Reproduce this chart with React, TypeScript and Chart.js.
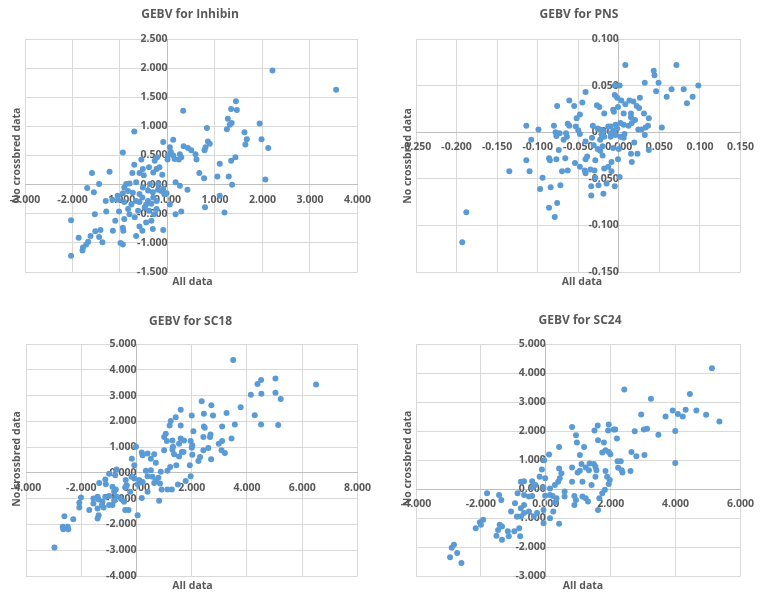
import React, { useEffect, useRef } from "react";
import { Chart, registerables } from "chart.js";

Chart.register(...registerables);

// ---------- DATA ----------
const titles = ["GEBV for Inhibin", "GEBV for PNS", "GEBV for SC18", "GEBV for SC24"];
const xAxisTitle = "All data";
const yAxisTitle = "No crossbred data";

const inhibinPoints: number[][] = [
  [2.21,1.96],[3.55,1.63],[1.44,1.43],[1.34,1.30],[1.46,1.28],[0.33,1.27],[1.27,1.13],[1.35,1.06],[1.31,1.03],[1.25,0.95],
  [1.94,1.05],[0.83,0.97],[1.62,0.90],[1.98,0.78],[1.67,0.78],[1.64,0.69],[2.12,0.63],[0.85,0.74],[0.89,0.70],[0.80,0.64],
  [0.78,0.59],[0.12,0.77],[-0.09,0.73],[0.34,0.66],[0.43,0.63],[0.50,0.59],[0.59,0.52],[0.61,0.43],[0.05,0.64],[0.07,0.56],
  [0.01,0.50],[0.12,0.50],[0.26,0.52],[0.29,0.47],[0.24,0.43],[0.15,0.44],[0.00,0.43],[1.43,0.47],[1.34,0.41],[1.10,0.36],
  [0.67,0.20],[1.05,0.14],[0.77,0.11],[1.29,0.14],[2.06,0.09],[1.36,0.00],[0.17,0.04],[0.26,-0.02],[0.42,-0.09],[1.10,-0.19],
  [0.79,-0.39],[1.20,-0.48],[0.29,-0.46],[0.17,-0.51],[0.05,-0.34],[-0.09,-0.78],[-0.31,-0.76],[-0.70,0.91],[-0.94,0.55],[-0.70,0.34],
  [-1.22,0.22],[-1.59,0.20],[-1.44,0.01],[-1.69,-0.06],[-1.55,-0.13],[-0.74,0.20],[-0.52,0.27],[-0.59,0.20],[-0.39,0.30],[-0.30,0.21],
  [-0.23,0.27],[-0.17,0.30],[-0.11,0.17],[-0.22,0.47],[-0.27,0.41],[-0.55,0.43],[-0.50,0.16],[-0.87,0.01],[-0.91,-0.05],[-0.80,0.02],
  [-0.66,0.04],[-0.52,-0.05],[-0.37,0.01],[-0.20,0.01],[-0.41,-0.10],[-0.31,-0.13],[-0.20,-0.09],[-0.13,-0.11],[-0.07,-0.16],[-0.09,-0.07],
  [-0.02,-0.15],[-0.59,-0.16],[-0.73,-0.14],[-0.83,-0.11],[-0.94,-0.15],[-1.05,-0.19],[-1.16,-0.26],[-1.30,-0.28],[-0.53,-0.22],[-0.41,-0.28],
  [-0.30,-0.22],[-0.23,-0.28],[-0.34,-0.33],[-0.45,-0.34],[-0.59,-0.30],[-0.66,-0.28],[-0.76,-0.34],[-0.83,-0.42],[-0.91,-0.30],[-0.80,-0.51],
  [-0.69,-0.56],[-0.62,-0.45],[-0.48,-0.39],[-0.39,-0.45],[-0.28,-0.51],[-0.23,-0.42],[-0.34,-0.62],[-0.45,-0.65],[-0.59,-0.72],[-0.53,-0.79],
  [-0.66,-0.88],[-0.91,-0.59],[-0.94,-0.74],[-0.93,-0.79],[-1.02,-0.46],[-1.10,-0.62],[-1.15,-0.79],[-1.29,-0.46],[-1.53,-0.51],[-1.41,-0.78],
  [-1.52,-0.80],[-1.62,-0.88],[-1.44,-0.90],[-1.37,-0.99],[-1.67,-0.98],[-1.71,-1.03],[-1.78,-1.08],[-1.79,-1.13],[-1.87,-0.91],[-2.03,-0.61],
  [-2.03,-1.22],[-0.99,-1.00],[-0.94,-1.03],[-1.04,-0.26]
];

const pnsPoints: number[][] = [
  [0.071,0.072],[0.008,0.072],[0.043,0.066],[0.044,0.061],[0.049,0.053],[0.032,0.053],[0.046,0.044],[0.065,0.046],[0.080,0.046],[0.098,0.050],
  [0.059,0.038],[0.091,0.038],[0.084,0.031],[0.053,0.005],[-0.005,0.050],[0.001,0.050],[-0.005,0.040],[-0.002,0.037],[0.003,0.034],[0.013,0.034],
  [0.018,0.033],[0.026,0.037],[0.022,0.028],[0.025,0.026],[0.008,0.030],[-0.007,0.024],[-0.006,0.022],[0.031,0.020],[0.037,0.015],[0.015,0.020],
  [0.015,0.016],[0.020,0.013],[0.016,0.010],[0.012,0.007],[0.002,0.010],[0.006,0.008],[-0.004,0.008],[-0.010,0.006],[-0.013,0.006],[-0.006,0.001],
  [-0.002,0.004],[-0.010,-0.001],[-0.004,-0.003],[0.002,-0.005],[0.007,-0.002],[0.006,-0.006],[-0.010,-0.005],[0.036,0.007],[0.033,0.005],[0.028,0.003],
  [0.024,0.003],[0.032,-0.003],[0.019,-0.011],[0.037,-0.019],[0.023,-0.023],[0.015,-0.023],[0.016,-0.032],[0.000,-0.018],[-0.007,-0.017],[-0.001,-0.029],
  [-0.009,-0.032],[-0.013,-0.037],[-0.009,-0.042],[-0.018,-0.039],[0.001,-0.048],[-0.005,-0.058],[-0.015,-0.055],[-0.019,-0.066],[-0.025,-0.057],[-0.029,-0.049],
  [-0.034,-0.058],[-0.034,-0.068],[-0.030,-0.041],[-0.035,-0.040],[-0.041,-0.044],[-0.042,-0.041],[-0.048,-0.037],[-0.054,-0.033],[-0.029,-0.030],[-0.041,-0.029],
  [-0.039,-0.026],[-0.020,-0.025],[-0.026,-0.018],[-0.023,-0.020],[-0.031,-0.014],[-0.020,-0.015],[-0.033,-0.006],[-0.041,-0.010],[-0.032,0.007],[-0.026,0.004],
  [-0.019,0.001],[-0.021,-0.003],[-0.023,-0.008],[-0.023,0.003],[-0.018,-0.005],[-0.018,0.020],[-0.024,0.027],[-0.027,0.029],[-0.041,0.043],[-0.045,0.032],
  [-0.048,0.019],[-0.052,0.015],[-0.055,0.028],[-0.061,0.034],[-0.063,0.009],[-0.061,0.007],[-0.053,0.006],[-0.050,0.002],[-0.048,-0.002],[-0.065,-0.001],
  [-0.064,-0.005],[-0.068,-0.008],[-0.073,-0.001],[-0.077,-0.004],[-0.076,0.028],[-0.080,0.007],[-0.078,0.000],[-0.074,-0.019],[-0.066,-0.028],[-0.077,-0.029],
  [-0.070,-0.042],[-0.063,-0.041],[-0.086,-0.028],[-0.085,-0.030],[-0.072,-0.057],[-0.084,-0.059],[-0.097,-0.061],[-0.094,-0.049],[-0.110,-0.042],[-0.114,-0.030],
  [-0.108,-0.008],[-0.114,0.007],[-0.099,0.003],[-0.135,-0.042],[-0.076,-0.076],[-0.086,-0.081],[-0.079,-0.091],[-0.188,-0.086],[-0.193,-0.118],[-0.001,0.027],
  [0.006,0.020]
];

const sc18Points: number[][] = [
  [3.50,4.38],[6.50,3.43],[5.03,3.66],[4.51,3.60],[4.38,3.45],[4.14,3.03],[4.52,3.07],[5.03,3.11],[5.22,2.87],[3.77,2.55],
  [4.28,2.24],[4.51,1.88],[5.13,1.86],[2.36,2.78],[2.71,2.62],[2.44,2.29],[2.77,2.23],[3.26,2.32],[3.10,1.80],[3.56,1.88],
  [2.44,1.80],[2.47,1.75],[1.60,2.45],[1.42,2.16],[1.24,2.01],[1.20,1.84],[1.60,1.84],[2.00,2.23],[2.06,1.62],[1.06,1.52],
  [1.00,1.39],[1.10,1.24],[1.30,1.26],[1.60,1.33],[1.72,1.26],[1.54,1.13],[1.32,1.01],[1.30,0.90],[1.96,1.24],[2.02,1.07],
  [2.00,0.98],[2.42,1.39],[2.68,1.49],[2.66,1.39],[2.60,0.97],[2.98,1.13],[3.10,1.24],[3.08,0.88],[3.20,0.77],[3.44,1.33],
  [2.42,0.88],[2.30,0.62],[2.24,0.46],[2.70,0.53],[2.02,0.70],[1.93,0.30],[1.96,-0.13],[1.78,-0.31],[1.54,0.64],[1.64,0.81],
  [1.70,0.81],[1.36,0.72],[1.44,0.30],[1.22,0.23],[1.12,0.08],[1.50,-0.45],[1.28,-0.64],[1.12,-0.64],[0.91,-0.64],[1.00,0.88],
  [0.64,0.72],[0.70,0.39],[0.52,0.55],[0.40,0.75],[0.52,0.10],[0.34,0.08],[0.40,-0.13],[0.58,-0.15],[0.79,-0.19],[0.88,0.04],
  [0.70,-0.31],[0.64,-0.39],[0.85,-0.41],[0.82,-1.08],[0.19,0.79],[0.22,0.68],[-0.02,1.01],[-0.17,0.55],[-0.08,0.30],[-0.18,-0.15],
  [-0.08,-0.22],[0.10,-0.28],[0.22,-0.35],[0.04,-0.44],[0.40,-0.73],[0.19,-0.97],[0.04,-1.64],[-0.39,-0.28],[-0.35,-0.48],[-0.23,-0.73],
  [-0.41,-0.57],[-0.72,0.13],[-0.77,-0.09],[-0.75,-0.64],[-0.81,-0.73],[-0.72,-0.93],[-0.57,-0.99],[-0.45,-1.12],[-0.41,-1.44],[-0.29,-1.44],
  [-0.99,-0.03],[-1.13,-0.26],[-1.11,-0.44],[-0.87,-0.54],[-0.99,-0.90],[-0.81,-1.08],[-0.99,-1.25],[-0.87,-1.25],[-1.13,-0.93],[-1.23,-1.12],
  [-1.25,-1.25],[-1.41,-0.93],[-1.35,-0.39],[-1.37,-1.03],[-1.56,-0.99],[-1.56,-1.19],[-1.41,-1.38],[-1.19,-1.34],[-1.71,-1.44],[-1.37,-1.64],
  [-1.41,-1.77],[-2.01,-0.95],[-2.07,-1.16],[-2.07,-1.34],[-2.29,-1.80],[-2.61,-1.68],[-2.67,-2.09],[-2.65,-2.19],[-2.49,-2.09],[-2.47,-2.19],
  [-2.97,-2.89]
];

const sc24Points: number[][] = [
  [5.12,4.16],[2.42,3.43],[3.24,3.11],[4.44,3.28],[2.94,2.57],[3.69,2.50],[3.91,2.71],[4.07,2.59],[4.22,2.50],[4.31,2.73],
  [4.64,2.71],[4.94,2.56],[5.35,2.33],[3.99,2.00],[3.47,1.87],[3.02,2.05],[3.12,2.08],[2.74,1.99],[3.04,1.17],[2.64,1.28],
  [2.79,1.13],[2.61,0.62],[3.99,0.90],[1.94,2.22],[2.09,2.05],[2.14,2.05],[1.92,2.02],[2.19,1.74],[1.60,2.19],[1.50,2.02],
  [0.81,2.14],[0.93,1.85],[0.96,1.60],[1.18,1.45],[1.61,1.68],[1.79,1.60],[1.84,1.34],[1.94,1.28],[1.74,1.26],[1.99,1.20],
  [2.21,0.96],[2.31,0.96],[2.23,0.73],[2.34,0.65],[2.36,0.57],[1.05,1.17],[1.10,0.86],[1.23,0.74],[1.05,0.63],[1.35,0.88],
  [1.48,0.86],[1.53,0.77],[1.56,0.65],[1.33,0.65],[0.81,0.74],[0.98,0.57],[1.84,0.62],[1.89,0.42],[1.53,0.42],[1.13,0.25],
  [1.41,0.14],[1.97,0.31],[1.94,0.17],[1.82,-0.03],[1.74,-0.15],[1.65,-0.32],[1.61,-0.72],[1.23,-0.32],[1.13,-0.26],[1.30,-0.43],
  [0.88,-0.24],[0.93,-0.38],[0.88,-0.55],[0.81,0.25],[0.58,-0.09],[0.58,-0.26],[0.41,0.71],[0.48,0.54],[0.43,0.37],[0.38,0.25],
  [0.28,0.14],[0.13,0.02],[0.41,1.45],[0.10,1.19],[-0.05,0.99],[-0.12,0.67],[-0.19,0.42],[-0.02,0.37],[-0.32,0.14],[-0.42,0.27],
  [-0.42,0.05],[-0.07,0.05],[-0.02,-0.23],[0.13,-0.21],[0.21,-0.24],[0.33,-0.32],[0.28,-0.46],[0.23,-0.78],[0.13,-1.01],[-0.07,-0.72],
  [-0.07,-1.18],[0.41,-1.20],[-0.27,-0.83],[-0.37,-0.95],[-0.52,-0.78],[-0.67,-0.83],[-0.77,-0.66],[-0.67,-0.55],[-0.52,-0.26],[-0.42,-0.24],
  [-0.67,-0.21],[-0.77,0.25],[-0.67,0.27],[-0.87,-0.15],[-0.95,-0.49],[-0.89,-0.95],[-0.77,-0.95],[-0.82,-1.35],[-0.97,-1.46],[-0.79,-1.63],
  [-1.17,-1.46],[-1.14,-1.63],[-1.07,-0.78],[-1.37,-0.38],[-1.44,-0.21],[-1.42,-1.23],[-1.35,-1.29],[-1.47,-1.41],[-1.52,-1.61],[-1.35,-1.75],
  [-1.81,-0.15],[-1.93,-1.06],[-2.03,-1.15],[-2.00,-1.23],[-2.16,-1.35],[-2.83,-1.92],[-2.90,-2.03],[-2.95,-2.35],[-2.73,-2.21],[-2.60,-2.55]
];

// axis ranges: [min, max, step]
const xRanges = [[-3, 4, 1], [-0.25, 0.15, 0.05], [-4, 8, 2], [-4, 6, 2]];
const yRanges = [[-1.5, 2.5, 0.5], [-0.15, 0.1, 0.05], [-4, 5, 1], [-3, 5, 1]];
const allPoints = [inhibinPoints, pnsPoints, sc18Points, sc24Points];

// ---------- LAYOUT ----------
const FONT = '"Open Sans", "Liberation Sans", sans-serif';
const TEXT = "#595959";
const GRID = "#d9d9d9";
const AXIS = "#bfbfbf";
const POINT = "#5B9BD5";

const panels = [
  { left: 0, top: 0, w: 380, h: 297, pad: { left: 25, right: 22, top: 39, bottom: 25 },
    titlePos: [190, 15], xTitlePos: [192.5, 282], yTitlePos: [17, 155.5] },
  { left: 380, top: 0, w: 383, h: 297, pad: { left: 36, right: 15, top: 39, bottom: 25 },
    titlePos: [199, 15], xTitlePos: [202, 282], yTitlePos: [28.5, 156] },
  { left: 0, top: 297, w: 380, h: 297, pad: { left: 26, right: 22, top: 47, bottom: 18 },
    titlePos: [190.5, 24.5], xTitlePos: [192.5, 289.5], yTitlePos: [17, 162] },
  { left: 380, top: 297, w: 383, h: 297, pad: { left: 36, right: 15, top: 47, bottom: 18 },
    titlePos: [200, 23.5], xTitlePos: [203, 289.5], yTitlePos: [28.5, 161.5] },
];

const textPlugin = {
  id: "panelText",
  afterDraw(chart: any, _args: any, opts: any) {
    const ctx = chart.ctx;
    ctx.save();
    ctx.fillStyle = TEXT;
    ctx.textAlign = "center";
    ctx.textBaseline = "middle";
    ctx.font = `bold 12px ${FONT}`;
    ctx.fillText(opts.title, opts.titlePos[0], opts.titlePos[1]);
    ctx.font = `bold 10.5px ${FONT}`;
    ctx.fillText(xAxisTitle, opts.xTitlePos[0], opts.xTitlePos[1]);
    ctx.translate(opts.yTitlePos[0], opts.yTitlePos[1]);
    ctx.rotate(-Math.PI / 2);
    ctx.fillText(yAxisTitle, 0, 0);
    ctx.restore();
  },
};

function ScatterPanel({ index }: { index: number }) {
  const ref = useRef<HTMLCanvasElement | null>(null);
  useEffect(() => {
    const p = panels[index];
    const [xMin, xMax, xStep] = xRanges[index];
    const [yMin, yMax, yStep] = yRanges[index];
    const tickFont = { family: FONT, size: 10.5, weight: "bold" as const };
    const chart = new Chart(ref.current as HTMLCanvasElement, {
      type: "scatter",
      data: {
        datasets: [
          {
            data: allPoints[index].map(([x, y]) => ({ x, y })),
            backgroundColor: POINT,
            borderWidth: 0,
            pointRadius: 3,
            pointHoverRadius: 3,
          },
        ],
      },
      options: {
        responsive: false,
        animation: false,
        events: [],
        layout: { padding: p.pad },
        plugins: {
          legend: { display: false },
          tooltip: { enabled: false },
          title: { display: false },
          panelText: { title: titles[index], titlePos: p.titlePos, xTitlePos: p.xTitlePos, yTitlePos: p.yTitlePos },
        } as any,
        scales: {
          x: {
            type: "linear",
            position: { y: 0 } as any,
            min: xMin,
            max: xMax,
            grid: { color: GRID, lineWidth: 1, drawTicks: false },
            border: { display: true, color: AXIS, width: 1 },
            ticks: {
              stepSize: xStep,
              autoSkip: false,
              maxRotation: 0,
              padding: 9,
              color: TEXT,
              font: tickFont,
              callback: (v: any) => Number(v).toFixed(3),
            },
          },
          y: {
            type: "linear",
            position: { x: 0 } as any,
            min: yMin,
            max: yMax,
            grid: { color: GRID, lineWidth: 1, drawTicks: false },
            border: { display: true, color: AXIS, width: 1 },
            ticks: {
              stepSize: yStep,
              autoSkip: false,
              padding: 3,
              color: TEXT,
              font: tickFont,
              callback: (v: any) => Number(v).toFixed(3),
            },
          },
        },
      },
      plugins: [textPlugin],
    });
    return () => chart.destroy();
  }, [index]);
  const p = panels[index];
  return (
    <div style={{ position: "absolute", left: p.left, top: p.top, width: p.w, height: p.h }}>
      <canvas ref={ref} width={p.w} height={p.h} style={{ display: "block" }} />
    </div>
  );
}

export default function App() {
  return (
    <div style={{ position: "fixed", left: 0, top: 0, width: 763, height: 594, background: "#ffffff" }}>
      {[0, 1, 2, 3].map((i) => (
        <ScatterPanel key={i} index={i} />
      ))}
    </div>
  );
}
